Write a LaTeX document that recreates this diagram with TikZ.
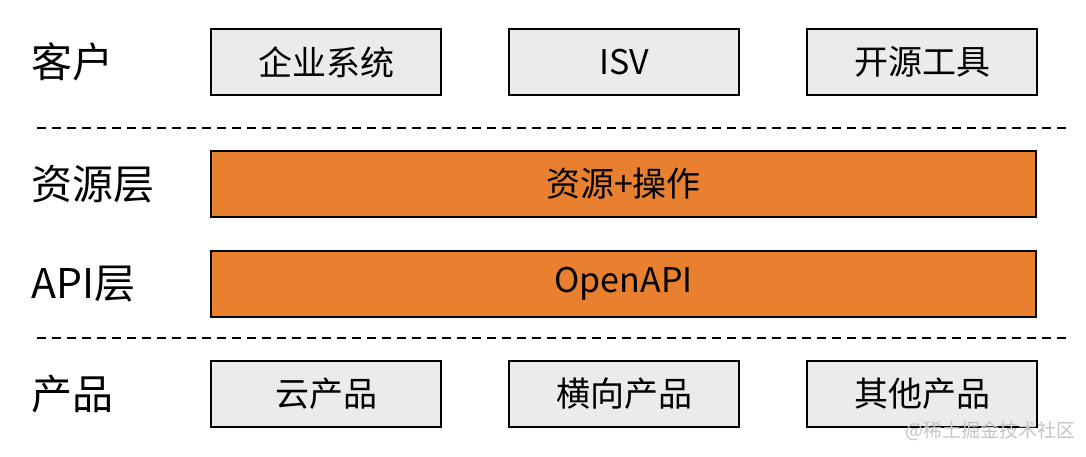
\documentclass[tikz,border=0pt]{standalone}
\usepackage{fontspec}
\setmainfont{Noto Sans CJK SC}
\usetikzlibrary{positioning}

\definecolor{boxgray}{HTML}{EBEBEB}
\definecolor{layerorange}{HTML}{E8802F}
\definecolor{markgray}{HTML}{C4C4C4}

\begin{document}
\begin{tikzpicture}[
    x=0.5pt, y=-0.5pt,
    node distance=33pt,
    tier/.style={anchor=west, inner sep=0pt, font=\fontsize{20.5pt}{24pt}\selectfont},
    block/.style={draw, line width=1pt, fill=boxgray, minimum width=115pt, minimum height=33pt, inner sep=0pt, font=\fontsize{17pt}{20pt}\selectfont},
    layer/.style={block, fill=layerorange, minimum width=412.5pt},
    sep/.style={dashed, line width=0.8pt, dash pattern=on 4.5pt off 3pt}
]
\useasboundingbox (0,0) rectangle (1086,456);

% tier labels
\node[tier] (client) at (31,62) {客户};
\node[tier] (reslabel) at (31,184) {资源层};
\node[tier] (apilabel) at (31,284) {API层};
\node[tier] (prodlabel) at (31,394) {产品};

% clients
\node[block] (enterprise) at (326,62) {企业系统};
\node[block, right=of enterprise] (isv) {ISV};
\node[block, right=of isv] (opensrc) {开源工具};

% layers
\node[layer] (resource) at (623.5,184) {资源+操作};
\node[layer] (openapi) at (623.5,284) {OpenAPI};

% products
\node[block] (cloud) at (326,394) {云产品};
\node[block, right=of cloud] (horizontal) {横向产品};
\node[block, right=of horizontal] (other) {其他产品};

% separators
\coordinate (sepA) at (37,128);
\coordinate (sepB) at (1068,128);
\coordinate (sepC) at (37,338);
\coordinate (sepD) at (1068,338);
\draw[sep] (sepA) -- (sepB);
\draw[sep] (sepC) -- (sepD);

\node[text=markgray, font=\fontsize{9.5pt}{11pt}\selectfont] (mark) at (990,431) {@稀土掘金技术社区};
\end{tikzpicture}
\end{document}
